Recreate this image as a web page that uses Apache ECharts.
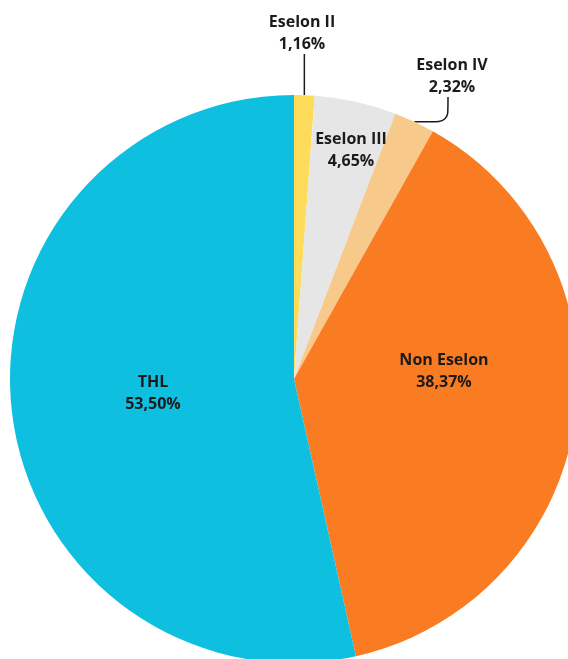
<!DOCTYPE html>
<html>
<head>
<meta charset="utf-8">
<script src="https://cdn.jsdelivr.net/npm/echarts@6/dist/echarts.min.js"></script>
<style>
  html, body { margin: 0; padding: 0; background: #fff; }
  #chart { width: 568px; height: 659px; }
</style>
</head>
<body>
<div id="chart"></div>
<script>
// data, clockwise from 12 o'clock
var categories = ['Eselon II', 'Eselon III', 'Eselon IV', 'Non Eselon', 'THL'];
var values = [1.16, 4.65, 2.32, 38.37, 53.50];
var colors = ['#fddc5c', '#e6e6e6', '#f7c98a', '#fa7c22', '#0fbfdf'];
var outsideNames = ['Eselon II', 'Eselon IV'];

// where each label block sits (centre)
var labelPos = {
    'Eselon II': [302, 33],
    'Eselon III': [351, 150],
    'Eselon IV': [452, 76],
    'Non Eselon': [444, 371],
    'THL': [153, 393]
};

var pieData = [];
for (var i = 0; i < categories.length; i++) {
    var outside = outsideNames.indexOf(categories[i]) >= 0;
    pieData.push({
        name: categories[i],
        value: values[i],
        itemStyle: { color: colors[i] },
        label: { position: outside ? 'outside' : 'inside' },
        labelLine: { show: outside }
    });
}

var myChart = echarts.init(document.getElementById('chart'));
var option = {
    animation: false,
    series: [{
        type: 'pie',
        center: [294, 379],
        radius: [0, 284],
        startAngle: 90,
        clockwise: true,
        data: pieData,
        itemStyle: { borderWidth: 0 },
        label: {
            formatter: function (p) {
                return p.name + '\n' + p.value.toFixed(2).replace('.', ',') + '%';
            },
            fontFamily: 'Open Sans',
            fontWeight: 'bold',
            fontSize: 16,
            lineHeight: 22,
            color: '#1b1b1b',
            align: 'center'
        },
        labelLine: {
            smooth: 0.25,
            lineStyle: { color: '#1b1b1b', width: 1.5 }
        },
        labelLayout: function (params) {
            var name = categories[params.dataIndex];
            var pos = labelPos[name];
            var res = { x: pos[0], y: pos[1], align: 'center', verticalAlign: 'middle' };
            if (outsideNames.indexOf(name) >= 0 && params.labelLinePoints) {
                var p0 = params.labelLinePoints[0];
                var bottom = pos[1] + 21;
                if (name === 'Eselon IV') {
                    res.labelLinePoints = [p0, [pos[0] - 4, p0[1]], [pos[0] - 4, bottom]];
                } else {
                    res.labelLinePoints = [p0, [p0[0], (p0[1] + bottom) / 2], [p0[0], bottom]];
                }
            }
            return res;
        }
    }]
};
myChart.setOption(option);
</script>
</body>
</html>
